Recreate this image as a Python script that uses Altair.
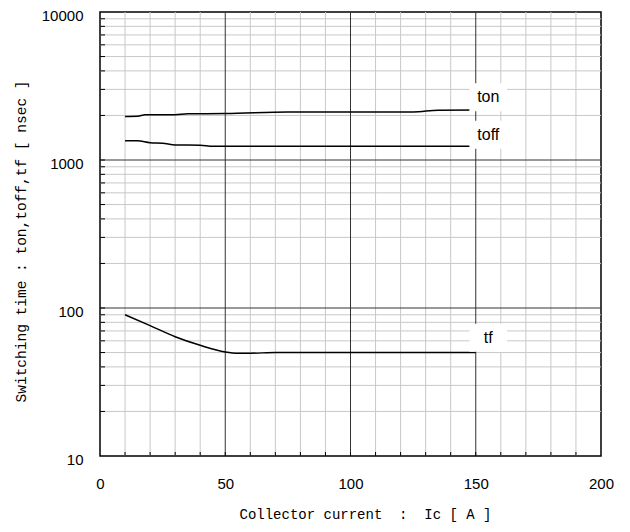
import altair as alt
import pandas as pd

# Curves (Ic [A] -> switching time [ns])
ton_x = [10, 15, 18, 30, 35, 50, 75, 125, 135, 150]
ton_y = [1970, 1975, 2020, 2025, 2055, 2060, 2110, 2110, 2170, 2180]
toff_x = [10, 15, 20, 25, 30, 40, 45, 150]
toff_y = [1350, 1350, 1310, 1300, 1265, 1260, 1240, 1240]
tf_x = [10, 20, 30, 40, 50, 55, 60, 70, 150]
tf_y = [90, 76, 64, 56, 50.5, 49.5, 49.5, 50, 50]

# Grid / ticks
minor_x = [10, 20, 30, 40, 60, 70, 80, 90, 110, 120, 130, 140, 160, 170, 180, 190]
major_x = [50, 100, 150]
minor_y = [m * d for d in (10, 100, 1000) for m in range(2, 10)]
major_y = [100, 1000]
x_ticks = [0, 50, 100, 150, 200]
y_ticks = [10, 100, 1000, 10000]

# Curve labels
labels = ["ton", "toff", "tf"]
label_x = [155, 155, 155]
label_y = [2650, 1480, 63]

curves = pd.DataFrame(
    [{"series": "ton", "x": a, "y": b} for a, b in zip(ton_x, ton_y)]
    + [{"series": "toff", "x": a, "y": b} for a, b in zip(toff_x, toff_y)]
    + [{"series": "tf", "x": a, "y": b} for a, b in zip(tf_x, tf_y)]
)
lab_df = pd.DataFrame({"label": labels, "x": label_x, "y": label_y})

xs = alt.Scale(domain=[0, 200], nice=False)
ys = alt.Scale(type="log", domain=[10, 10000], nice=False)

NB = "\u00a0"
xaxis = alt.Axis(
    values=x_ticks, ticks=False, domain=False, grid=False, labelFlush=False,
    labelFont="Liberation Sans", labelFontSize=15, labelColor="black", labelPadding=20,
    title=f"Collector current{NB}{NB}:{NB}{NB}Ic [ A ]", titleFont="Liberation Mono", titleFontSize=14,
    titleFontWeight="normal", titleColor="black", titleX=265, titleY=58, titleBaseline="middle")
yaxis = alt.Axis(
    values=y_ticks, ticks=False, domain=False, grid=False, format="d", labelFlush=False,
    labelFont="Liberation Sans", labelFontSize=15, labelColor="black", labelPadding=17,
    labelOffset=3, labelBaseline="middle",
    title="Switching time : ton,toff,tf [ nsec ]", titleFont="Liberation Mono", titleFontSize=14.5,
    titleFontWeight="normal", titleColor="black", titleX=-79, titleY=229, titleBaseline="middle")

X = alt.X("x:Q", scale=xs, axis=xaxis)
Y = alt.Y("y:Q", scale=ys, axis=yaxis)

W, H = 501, 444

minor_v = alt.Chart(pd.DataFrame({"x": minor_x})).mark_rule(color="#c8c8c8", strokeWidth=1).encode(x=X)
minor_h = alt.Chart(pd.DataFrame({"y": minor_y})).mark_rule(color="#c8c8c8", strokeWidth=1).encode(y=Y)
major_v = alt.Chart(pd.DataFrame({"x": major_x})).mark_rule(color="#333333", strokeWidth=1).encode(x=X)
major_h = alt.Chart(pd.DataFrame({"y": major_y})).mark_rule(color="#333333", strokeWidth=1).encode(y=Y)

xtick_in = alt.Chart(pd.DataFrame({"x": minor_x + major_x})).mark_rule(color="black", strokeWidth=1).encode(
    x=X, y=alt.value(H), y2=alt.value(H - 4))
ytick_in = alt.Chart(pd.DataFrame({"y": minor_y + major_y})).mark_rule(color="black", strokeWidth=1).encode(
    y=Y, x=alt.value(0), x2=alt.value(5))

lines = alt.Chart(curves).mark_line(color="black", strokeWidth=1.5, interpolate="monotone").encode(
    x=X, y=Y, detail="series:N")

boxes = alt.Chart(lab_df).mark_point(
    shape="M-1.35,-1L1.35,-1L1.35,1L-1.35,1Z", filled=True, fill="white", opacity=1, strokeWidth=0,
    size=784).encode(x=X, y=Y)

texts = alt.Chart(lab_df).mark_text(
    font="Liberation Sans", fontSize=16, color="black", align="center", baseline="middle").encode(
    x=X, y=Y, text="label:N")

chart = alt.layer(minor_v, minor_h, major_v, major_h, xtick_in, ytick_in, lines, boxes, texts).properties(
    width=W, height=H,
    padding={"left": 92, "top": 4, "right": 13, "bottom": 66},
    autosize=alt.AutoSizeParams(type="none"),
).configure_view(stroke="black", strokeWidth=1.5)

chart.save("out.html", embed_options={"renderer": "svg", "actions": False})
